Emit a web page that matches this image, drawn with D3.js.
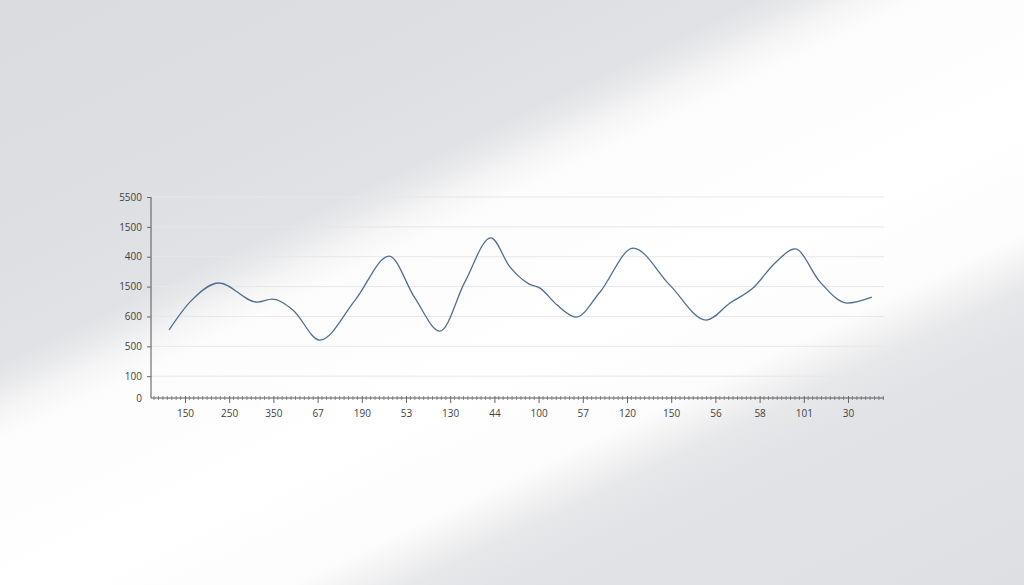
<!DOCTYPE html>
<html>
<head>
<meta charset="utf-8">
<script src="https://cdn.jsdelivr.net/npm/d3@7"></script>
<style>
  html, body { margin: 0; padding: 0; background: #f4f4f5; }
  svg { display: block; }
</style>
</head>
<body>
<svg id="chart" width="1024" height="585"></svg>
<script>
// ---- data ----
const xTickLabels = ["150","250","350","67","190","53","130","44","100","57","120","150","56","58","101","30"];
const yTickLabels = ["0","100","500","600","1500","400","1500","5500"];
const yTickPositions = [0, 0.73, 1.73, 2.73, 3.73, 4.73, 5.73, 6.73];
const seriesX = [-0.36, 0.11, 0.77, 1.63, 1.97, 2.44, 3.05, 3.85, 4.62, 5.20, 5.77, 6.33, 6.92, 7.35, 7.78, 8.03, 8.42, 8.85, 9.39, 10.14, 10.97, 11.79, 12.33, 12.85, 13.35, 13.80, 14.37, 14.98, 15.54];
const seriesY = [2.28, 3.21, 3.85, 3.21, 3.31, 2.95, 1.94, 3.28, 4.75, 3.35, 2.24, 3.88, 5.36, 4.39, 3.82, 3.68, 3.11, 2.71, 3.55, 5.02, 3.78, 2.61, 3.18, 3.68, 4.52, 4.99, 3.88, 3.18, 3.38];

const svg = d3.select("#chart");
const W = 1024, H = 585;

// ---- background with diagonal light band ----
const defs = svg.append("defs");
const bg = defs.append("linearGradient").attr("id", "bg")
  .attr("gradientUnits", "userSpaceOnUse")
  .attr("x1", 400).attr("y1", -192).attr("x2", 829).attr("y2", 702);
[[0, "#dbdcdf"], [0.20, "#dddee1"], [0.33, "#e1e2e5"], [0.35, "#e8e9eb"], [0.375, "#f5f5f6"], [0.40, "#fcfcfc"],
 [0.55, "#ffffff"], [0.66, "#fcfcfc"], [0.685, "#f2f2f3"], [0.71, "#e7e8ea"], [0.75, "#e2e3e6"], [1, "#dedfe2"]]
  .forEach(([o, c]) => bg.append("stop").attr("offset", o).attr("stop-color", c));
svg.append("rect").attr("width", W).attr("height", H).attr("fill", "url(#bg)");

// ---- scales ----
const x = d3.scaleLinear().domain([0, 15]).range([185, 848]);
const y = d3.scaleLinear().domain([0, 6.73]).range([398, 197]);
const xLeft = 151, xRight = 884;

// gridlines
svg.append("g").selectAll("line").data(yTickPositions.slice(1)).join("line")
  .attr("x1", xLeft).attr("x2", xRight)
  .attr("y1", d => y(d)).attr("y2", d => y(d))
  .attr("stroke", "#e6e7e9").attr("stroke-width", 1);

// y axis
const yAxis = d3.axisLeft(y).tickValues(yTickPositions)
  .tickFormat((d, i) => yTickLabels[i]).tickSize(4).tickPadding(5);
const gy = svg.append("g").attr("transform", `translate(${xLeft},0)`).call(yAxis);
gy.select(".domain").attr("stroke", "#555").attr("d", `M-0,${y(6.73)}V${y(0)}`);
gy.selectAll(".tick line").attr("stroke", "#666");
gy.selectAll(".tick").filter((d, i) => i === 0).select("line").remove();
gy.selectAll("text").attr("fill", "#3f3f3f").style("font-family", "'Open Sans', sans-serif").style("font-size", "10px");

// x axis with minor ticks
const minor = d3.range(-7, 159).map(k => k / 10).filter(v => Math.abs(v - Math.round(v)) > 1e-6);
const gx = svg.append("g").attr("transform", `translate(0,${y(0)})`);
gx.append("line").attr("x1", xLeft).attr("x2", xRight).attr("y1", 0).attr("y2", 0)
  .attr("stroke", "#555").attr("stroke-width", 1);
gx.selectAll("line.minor").data(minor).join("line").attr("class", "minor")
  .attr("x1", d => x(d)).attr("x2", d => x(d)).attr("y1", -2).attr("y2", 2)
  .attr("stroke", "#707070").attr("stroke-width", 0.8);
const xAxis = d3.axisBottom(x).tickValues(d3.range(0, 16))
  .tickFormat(i => xTickLabels[i]).tickSize(5).tickPadding(7);
const gxa = gx.append("g").call(xAxis);
gxa.select(".domain").remove();
gxa.selectAll(".tick line").attr("stroke", "#666").attr("y1", -2);
gxa.selectAll("text").attr("fill", "#3f3f3f").style("font-family", "'Open Sans', sans-serif").style("font-size", "10px");

// ---- line ----
const pts = seriesX.map((v, i) => [v, seriesY[i]]);
const line = d3.line().x(d => x(d[0])).y(d => y(d[1])).curve(d3.curveMonotoneX);
svg.append("path").datum(pts).attr("d", line)
  .attr("fill", "none").attr("stroke", "#4f6e91").attr("stroke-width", 1.3);
</script>
</body>
</html>
